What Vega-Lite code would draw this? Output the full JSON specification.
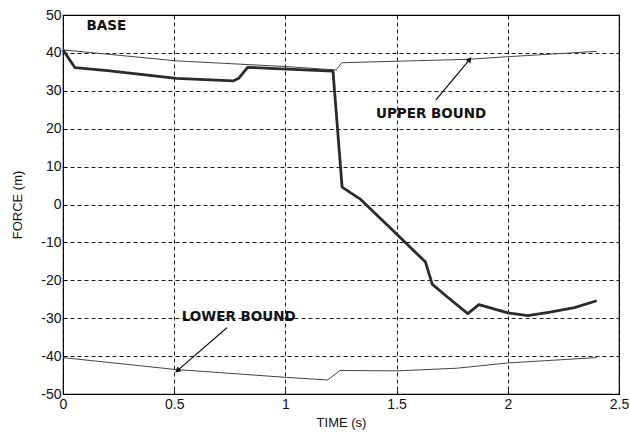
{
  "$schema": "https://vega.github.io/schema/vega-lite/v6.json",
  "width": 556,
  "height": 379,
  "autosize": {"type": "none"},
  "padding": {"left": 63, "top": 15, "right": 11, "bottom": 42},
  "background": "white",
  "config": {
    "font": "Liberation Sans",
    "view": {"stroke": "black", "strokeWidth": 1.2},
    "axis": {
      "domain": false,
      "grid": true,
      "gridColor": "black",
      "gridDash": [4, 3],
      "gridWidth": 1,
      "gridOpacity": 0.9,
      "ticks": true,
      "tickSize": -4,
      "tickColor": "black",
      "labelOverlap": false,
      "labelFlush": false,
      "labelFont": "Liberation Sans",
      "labelFontSize": 14,
      "labelColor": "#111",
      "titleFont": "Liberation Sans",
      "titleFontSize": 13,
      "titleFontWeight": "normal",
      "titleColor": "#111"
    }
  },
  "datasets": {
    "main": [
      {"t": 0.0, "f": 40.8},
      {"t": 0.054, "f": 36.1},
      {"t": 0.2, "f": 35.3},
      {"t": 0.51, "f": 33.3},
      {"t": 0.765, "f": 32.6},
      {"t": 0.79, "f": 33.3},
      {"t": 0.83, "f": 36.2},
      {"t": 0.98, "f": 35.8},
      {"t": 1.214, "f": 35.2},
      {"t": 1.255, "f": 4.6},
      {"t": 1.335, "f": 1.5},
      {"t": 1.5, "f": -7.8},
      {"t": 1.63, "f": -15.2},
      {"t": 1.66, "f": -21.0},
      {"t": 1.72, "f": -24.0},
      {"t": 1.82, "f": -28.8},
      {"t": 1.87, "f": -26.4},
      {"t": 2.0, "f": -28.6},
      {"t": 2.09, "f": -29.3},
      {"t": 2.19, "f": -28.4},
      {"t": 2.3, "f": -27.2},
      {"t": 2.4, "f": -25.4}
    ],
    "upper": [
      {"t": 0.0, "f": 40.8},
      {"t": 0.51, "f": 37.9},
      {"t": 1.0, "f": 36.4},
      {"t": 1.228, "f": 35.5},
      {"t": 1.254, "f": 37.4},
      {"t": 1.5, "f": 37.8},
      {"t": 1.82, "f": 38.3},
      {"t": 2.0, "f": 39.0},
      {"t": 2.2, "f": 39.7},
      {"t": 2.4, "f": 40.4}
    ],
    "lower": [
      {"t": 0.0, "f": -40.4},
      {"t": 0.5, "f": -43.5},
      {"t": 1.0, "f": -45.6},
      {"t": 1.19, "f": -46.3},
      {"t": 1.245, "f": -43.8},
      {"t": 1.5, "f": -43.9},
      {"t": 1.77, "f": -43.2},
      {"t": 2.0, "f": -41.8},
      {"t": 2.2, "f": -41.1},
      {"t": 2.4, "f": -40.4}
    ],
    "labels": [
      {"text": "BASE", "t": 0.195, "f": 47.1},
      {"text": "UPPER BOUND", "t": 1.655, "f": 23.9},
      {"text": "LOWER BOUND", "t": 0.79, "f": -29.7}
    ],
    "arrows": [
      {"name": "upper", "t": 1.677, "f": 27.6, "t2": 1.826, "f2": 38.1},
      {"name": "lower", "t": 0.737, "f": -32.5, "t2": 0.517, "f2": -43.7}
    ]
  },
  "layer": [
    {
      "data": {"name": "upper"},
      "mark": {"type": "line", "color": "#444", "strokeWidth": 1},
      "encoding": {
        "x": {"field": "t", "type": "quantitative", "scale": {"domain": [0, 2.5], "nice": false}, "axis": {"values": [0, 0.5, 1, 1.5, 2, 2.5], "tickCount": 20, "format": "~g", "title": "TIME (s)", "labelPadding": 7, "titlePadding": 5, "labelOverlap": false}},
        "y": {"field": "f", "type": "quantitative", "scale": {"domain": [-50, 50], "nice": false}, "axis": {"values": [-50, -40, -30, -20, -10, 0, 10, 20, 30, 40, 50], "tickCount": 20, "labelExpr": "datum.value < 0 ? '-' + abs(datum.value) : '' + datum.value", "title": "FORCE (m)", "labelPadding": 6, "titlePadding": 16, "labelOverlap": false, "labelSeparation": 0}}
      }
    },
    {
      "data": {"name": "lower"},
      "mark": {"type": "line", "color": "#444", "strokeWidth": 1},
      "encoding": {
        "x": {"field": "t", "type": "quantitative"},
        "y": {"field": "f", "type": "quantitative"}
      }
    },
    {
      "data": {"name": "main"},
      "mark": {"type": "line", "color": "#2b2b2b", "strokeWidth": 2.8, "strokeJoin": "round"},
      "encoding": {
        "x": {"field": "t", "type": "quantitative"},
        "y": {"field": "f", "type": "quantitative"}
      }
    },
    {
      "data": {"name": "arrows"},
      "mark": {"type": "rule", "color": "#111", "strokeWidth": 1.2},
      "encoding": {
        "x": {"field": "t", "type": "quantitative"},
        "y": {"field": "f", "type": "quantitative"},
        "x2": {"field": "t2"},
        "y2": {"field": "f2"}
      }
    },
    {
      "data": {"name": "arrows"},
      "transform": [{"filter": "datum.name === 'upper'"}],
      "mark": {"type": "point", "shape": "triangle", "filled": true, "color": "#111", "size": 40, "angle": 39.5, "opacity": 1},
      "encoding": {
        "x": {"field": "t2", "type": "quantitative"},
        "y": {"field": "f2", "type": "quantitative"}
      }
    },
    {
      "data": {"name": "arrows"},
      "transform": [{"filter": "datum.name === 'lower'"}],
      "mark": {"type": "point", "shape": "triangle", "filled": true, "color": "#111", "size": 40, "angle": 229, "opacity": 1},
      "encoding": {
        "x": {"field": "t2", "type": "quantitative"},
        "y": {"field": "f2", "type": "quantitative"}
      }
    },
    {
      "data": {"name": "labels"},
      "mark": {"type": "text", "font": "DejaVu Sans", "fontWeight": "bold", "fontSize": 13.5, "color": "#111", "align": "center", "baseline": "middle"},
      "encoding": {
        "x": {"field": "t", "type": "quantitative"},
        "y": {"field": "f", "type": "quantitative"},
        "text": {"field": "text"}
      }
    }
  ]
}
